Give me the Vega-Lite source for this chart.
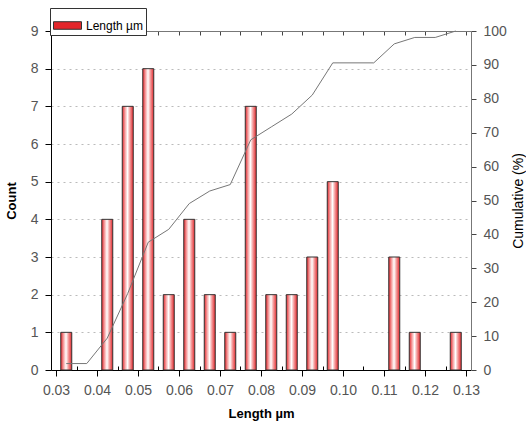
{
  "$schema": "https://vega.github.io/schema/vega-lite/v6.json",
  "width": 420,
  "height": 339,
  "autosize": "none",
  "padding": {"left": 51, "top": 31, "right": 55, "bottom": 56},
  "background": "white",
  "config": {
    "view": {"stroke": null},
    "font": "Liberation Sans",
    "axis": {
      "labelFont": "Liberation Sans",
      "titleFont": "Liberation Sans",
      "labelFontSize": 14,
      "labelColor": "#555",
      "titleFontSize": 14,
      "titleColor": "#000"
    }
  },
  "datasets": {
    "bins": [
      {"length": 0.0325, "count": 1},
      {"length": 0.0425, "count": 4},
      {"length": 0.0475, "count": 7},
      {"length": 0.0525, "count": 8},
      {"length": 0.0575, "count": 2},
      {"length": 0.0625, "count": 4},
      {"length": 0.0675, "count": 2},
      {"length": 0.0725, "count": 1},
      {"length": 0.0775, "count": 7},
      {"length": 0.0825, "count": 2},
      {"length": 0.0875, "count": 2},
      {"length": 0.0925, "count": 3},
      {"length": 0.0975, "count": 5},
      {"length": 0.1125, "count": 3},
      {"length": 0.1175, "count": 1},
      {"length": 0.1275, "count": 1}
    ],
    "cum": [
      {"length": 0.0325, "cum": 1.9},
      {"length": 0.0375, "cum": 1.9},
      {"length": 0.0425, "cum": 9.4},
      {"length": 0.0475, "cum": 22.6},
      {"length": 0.0525, "cum": 37.7},
      {"length": 0.0575, "cum": 41.5},
      {"length": 0.0625, "cum": 49.1},
      {"length": 0.0675, "cum": 52.8},
      {"length": 0.0725, "cum": 54.7},
      {"length": 0.0775, "cum": 67.9},
      {"length": 0.0825, "cum": 71.7},
      {"length": 0.0875, "cum": 75.5},
      {"length": 0.0925, "cum": 81.1},
      {"length": 0.0975, "cum": 90.6},
      {"length": 0.1075, "cum": 90.6},
      {"length": 0.1125, "cum": 96.2},
      {"length": 0.1175, "cum": 98.1},
      {"length": 0.1225, "cum": 98.1},
      {"length": 0.1275, "cum": 100}
    ]
  },
  "layer": [
    {
      "data": {"name": "bins"},
      "mark": {
        "type": "bar", "orient": "vertical", "size": 11, "stroke": "#333", "strokeWidth": 1,
        "fill": {"gradient": "linear", "x1": 0, "y1": 0, "x2": 1, "y2": 0,
          "stops": [
            {"offset": 0, "color": "#e3262b"},
            {"offset": 0.3, "color": "#f8b5b5"},
            {"offset": 0.48, "color": "#ffffff"},
            {"offset": 0.7, "color": "#f39a9a"},
            {"offset": 1, "color": "#e3262b"}
          ]}
      },
      "encoding": {
        "x": {
          "field": "length",
          "type": "quantitative",
          "scale": {"domain": [0.03, 0.13], "nice": false, "zero": false},
          "axis": {
            "orient": "bottom",
            "title": "Length µm",
            "titleFontWeight": "bold",
            "titleFontSize": 13,
            "titlePadding": 10,
            "values": [0.03, 0.035, 0.04, 0.045, 0.05, 0.055, 0.06, 0.065, 0.07, 0.075, 0.08, 0.085, 0.09, 0.095, 0.1, 0.105, 0.11, 0.115, 0.12, 0.125, 0.13],
            "labelExpr": "round(datum.value*1000)%10==0 ? format(datum.value,'.2f') : ''",
            "tickSize": {"condition": {"test": "round(datum.value*1000)%10==0", "value": 6}, "value": -4},
            "labelPadding": 7,
            "tickColor": "#000",
            "domainColor": "#000",
            "grid": false
          }
        },
        "y": {
          "field": "count",
          "type": "quantitative",
          "scale": {"domain": [0, 9], "nice": false},
          "axis": {
            "orient": "left",
            "title": "Count",
            "titleFontWeight": "bold",
            "titleFontSize": 13,
            "titlePadding": 12,
            "values": [0, 1, 2, 3, 4, 5, 6, 7, 8, 9],
            "tickSize": 6,
            "labelPadding": 7,
            "tickColor": "#000",
            "domainColor": "#000",
            "grid": true,
            "gridDash": [2, 4],
            "gridColor": "#bbb",
            "gridWidth": 1
          }
        }
      }
    },
    {
      "data": {"name": "cum"},
      "mark": {"type": "line", "color": "#777", "strokeWidth": 1},
      "encoding": {
        "x": {
          "field": "length",
          "type": "quantitative",
          "axis": {
            "orient": "top",
            "title": null,
            "labels": false,
            "values": [0.03, 0.035, 0.04, 0.045, 0.05, 0.055, 0.06, 0.065, 0.07, 0.075, 0.08, 0.085, 0.09, 0.095, 0.1, 0.105, 0.11, 0.115, 0.12, 0.125, 0.13],
            "tickSize": -4,
            "tickColor": "#444",
            "domainColor": "#777",
            "grid": false
          }
        },
        "y": {
          "field": "cum",
          "type": "quantitative",
          "scale": {"domain": [0, 100], "nice": false},
          "axis": {
            "orient": "right",
            "title": "Cumulative (%)",
            "titleFontWeight": "normal",
            "titleFontSize": 14,
            "titleAngle": 270,
            "titleBaseline": "top",
            "titlePadding": 5,
            "values": [0, 10, 20, 30, 40, 50, 60, 70, 80, 90, 100],
            "tickSize": 5,
            "labelPadding": 7,
            "tickColor": "#444",
            "domainColor": "#777",
            "grid": false
          }
        }
      }
    },
    {
      "data": {"name": "bins"},
      "mark": {"type": "bar", "orient": "vertical", "size": 11, "fillOpacity": 0, "strokeOpacity": 0},
      "encoding": {
        "x": {"field": "length", "type": "quantitative", "axis": null},
        "y": {"field": "count", "type": "quantitative", "scale": {"domain": [0, 9], "nice": false}, "axis": null},
        "fill": {
          "datum": "Length µm",
          "type": "nominal",
          "scale": {"range": ["#e3262b"]},
          "legend": {
            "orient": "none",
            "legendX": -1,
            "legendY": -23,
            "title": null,
            "symbolType": "M-1,-0.27H1V0.27H-1Z",
            "symbolSize": 784,
            "symbolStrokeColor": "#333",
            "symbolStrokeWidth": 1,
            "symbolOpacity": 1,
            "strokeColor": "#333",
            "fillColor": "white",
            "padding": 3,
            "labelFont": "Liberation Sans",
            "labelFontSize": 12,
            "labelColor": "#000"
          }
        }
      }
    }
  ],
  "resolve": {"scale": {"y": "independent"}, "axis": {"x": "independent"}}
}
